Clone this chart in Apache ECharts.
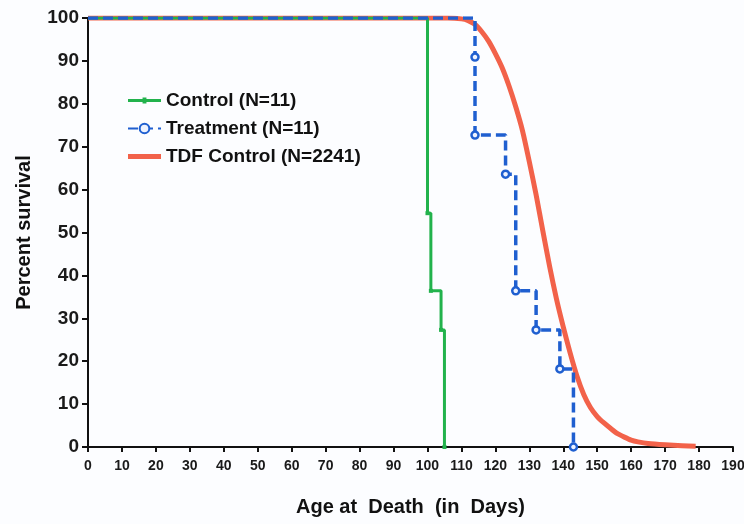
<!DOCTYPE html>
<html>
<head>
<meta charset="utf-8">
<script src="https://cdn.jsdelivr.net/npm/echarts@6/dist/echarts.min.js"></script>
<style>
  html, body { margin: 0; padding: 0; background: #fcfdff; }
  #chart { width: 744px; height: 524px; }
</style>
</head>
<body>
<div id="chart"></div>
<script>
// Kaplan-Meier style survival data
var controlDays = [0, 100, 101, 104, 105];
var controlSurv = [100, 54.5, 36.4, 27.3, 0];

var treatDays = [0, 114, 114, 123, 126, 132, 139, 143];
var treatSurv = [100, 90.9, 72.7, 63.6, 36.4, 27.3, 18.2, 0];

var tdfDays = [0, 106, 110, 112, 114, 116, 118, 120, 122, 124, 126, 128, 130, 132, 134, 136, 138, 140, 142, 144, 146, 148, 150, 152, 154, 156, 158, 160, 162, 165, 170, 175, 179];
var tdfSurv = [100, 100, 99.8, 99.4, 98.5, 96.8, 94.6, 91.7, 88.4, 84.2, 79.3, 73.7, 66.5, 58.8, 50.3, 42, 34.5, 28, 22, 16.6, 12.3, 9.2, 7.1, 5.6, 4.3, 3.1, 2.3, 1.6, 1.2, 0.8, 0.5, 0.3, 0.2];

function pairs(xs, ys) {
    return xs.map(function (x, i) { return [x, ys[i]]; });
}

var myChart = echarts.init(document.getElementById('chart'));
var font = 'Liberation Sans, Arial, sans-serif';

var option = {
    backgroundColor: '#fcfdff',
    animation: false,
    grid: { left: 88, right: 11, top: 18, bottom: 77, outerBoundsMode: 'none', containLabel: false },
    legend: {
        orient: 'vertical',
        left: 122,
        top: 86,
        itemWidth: 33,
        itemHeight: 12,
        itemGap: 9,
        data: [
            { name: 'Control (N=11)', icon: 'path://M0,5 L34,5 L34,8 L0,8 Z M15,3.5 L19,3.5 L19,9.5 L15,9.5 Z' },
            'Treatment (N=11)',
            { name: 'TDF Control (N=2241)', icon: 'path://M0,0 L34,0 L34,5 L0,5 Z' }
        ],
        textStyle: { fontFamily: font, fontWeight: 'bold', fontSize: 19, color: '#111' }
    },
    xAxis: {
        type: 'value',
        min: 0,
        max: 190,
        interval: 10,
        name: 'Age at  Death  (in  Days)',
        nameLocation: 'middle',
        nameGap: 50,
        nameTextStyle: { fontFamily: font, fontWeight: 'bold', fontSize: 20, color: '#111' },
        axisLine: { lineStyle: { color: '#111', width: 2 } },
        axisTick: { lineStyle: { color: '#111', width: 2 }, length: 5 },
        axisLabel: { fontFamily: font, fontWeight: 'bold', fontSize: 14, color: '#1a1a1a', margin: 12 },
        splitLine: { show: false }
    },
    yAxis: {
        type: 'value',
        min: 0,
        max: 100,
        interval: 10,
        name: 'Percent survival',
        nameLocation: 'middle',
        nameGap: 54,
        nameTextStyle: { fontFamily: font, fontWeight: 'bold', fontSize: 20, color: '#111' },
        axisLine: { show: true, lineStyle: { color: '#111', width: 2 } },
        axisTick: { show: true, lineStyle: { color: '#111', width: 2 }, length: 6 },
        axisLabel: { fontFamily: font, fontWeight: 'bold', fontSize: 19, color: '#1a1a1a', margin: 9 },
        splitLine: { show: false }
    },
    series: [
        {
            name: 'TDF Control (N=2241)',
            type: 'line',
            data: pairs(tdfDays, tdfSurv),
            smooth: 0.2,
            showSymbol: false,
            symbol: 'none',
            itemStyle: { color: '#f2624a' },
            lineStyle: { color: '#f2624a', width: 5, join: 'round' },
            z: 1
        },
        {
            name: 'Control (N=11)',
            type: 'line',
            step: 'end',
            data: pairs(controlDays, controlSurv),
            symbol: function (v, p) { return p.dataIndex === 0 ? 'none' : 'rect'; },
            symbolSize: 4,
            itemStyle: { color: '#22b24c' },
            lineStyle: { color: '#22b24c', width: 3 },
            z: 2
        },
        {
            name: 'Treatment (N=11)',
            type: 'line',
            step: 'end',
            data: pairs(treatDays, treatSurv),
            symbol: function (v, p) { return p.dataIndex === 0 ? 'none' : 'circle'; },
            symbolSize: 7,
            itemStyle: { color: '#eef3ff', borderColor: '#1f5fd0', borderWidth: 2.5 },
            lineStyle: { color: '#1f5fd0', width: 3.5, type: [10, 5] },
            z: 3
        }
    ]
};

myChart.setOption(option);
</script>
</body>
</html>
